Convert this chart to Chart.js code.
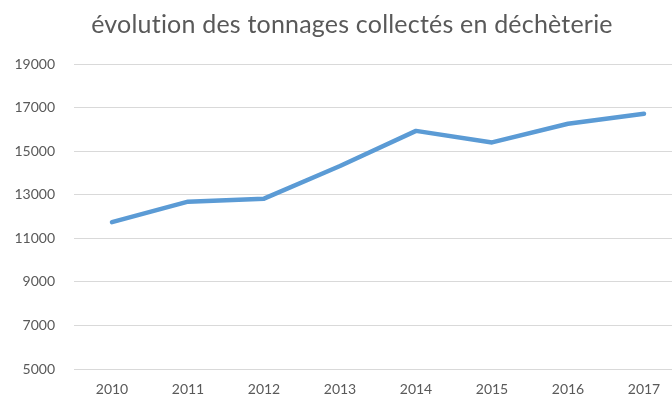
<!DOCTYPE html>
<html>
<head>
<meta charset="utf-8">
<script src="https://cdn.jsdelivr.net/npm/chart.js@4/dist/chart.umd.min.js"></script>
<style>
  html, body { margin: 0; padding: 0; background: #fff; overflow: hidden; width: 672px; height: 401px; }
  #wrap { width: 690px; height: 401px; }
</style>
</head>
<body>
<div id="wrap"><canvas id="c" width="690" height="401"></canvas></div>
<script>
const chartTitle = "évolution des tonnages collectés en déchèterie";
const years = ["2010", "2011", "2012", "2013", "2014", "2015", "2016", "2017"];
const tonnages = [11740, 12680, 12820, 14320, 15930, 15400, 16255, 16715];
const yMin = 5000;
const yMax = 19000;
const yStep = 2000;

const titlePlugin = {
  id: 'customTitle',
  afterDraw(chart) {
    const ctx = chart.ctx;
    ctx.save();
    ctx.font = '400 25px Lato';
    if ('letterSpacing' in ctx) ctx.letterSpacing = '0.2px';
    ctx.fillStyle = '#595959';
    ctx.textAlign = 'center';
    ctx.textBaseline = 'middle';
    ctx.fillText(chartTitle, 352, 25);
    ctx.restore();
  }
};

new Chart(document.getElementById('c'), {
  type: 'line',
  data: {
    labels: years,
    datasets: [{
      data: tonnages,
      borderColor: '#5b9bd5',
      borderWidth: 4.5,
      pointRadius: 0,
      tension: 0,
      borderCapStyle: 'round',
      borderJoinStyle: 'round',
      fill: false
    }]
  },
  options: {
    responsive: false,
    animation: false,
    devicePixelRatio: 1,
    layout: { padding: { top: 64, right: 8, left: 0, bottom: 0 } },
    plugins: { legend: { display: false }, tooltip: { enabled: false }, title: { display: false } },
    scales: {
      x: {
        offset: true,
        grid: { display: false, drawTicks: false },
        border: { display: false },
        ticks: { color: '#595959', font: { family: 'Lato', size: 14 }, padding: 12, maxRotation: 0 },
        afterFit(s) { s.height = 32; }
      },
      y: {
        min: yMin,
        max: yMax,
        grid: { color: '#d9d9d9', lineWidth: 1, drawTicks: false },
        border: { display: false },
        ticks: { stepSize: yStep, color: '#595959', font: { family: 'Lato', size: 14 }, padding: 19,
                 callback: (v) => String(v) },
        afterFit(s) { s.width = 74; }
      }
    }
  },
  plugins: [titlePlugin]
});
</script>
</body>
</html>
